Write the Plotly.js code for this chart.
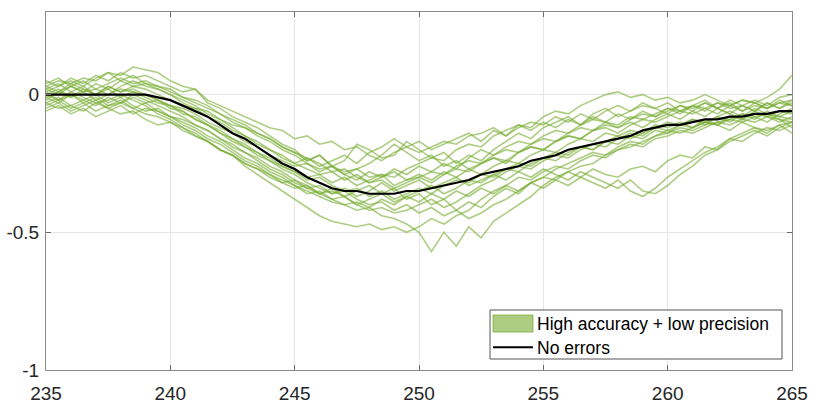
<!DOCTYPE html>
<html>
<head>
<meta charset="utf-8">
<script src="https://cdn.plot.ly/plotly-3.0.1.min.js"></script>
<style>html,body{margin:0;padding:0;background:#fff;}#chart{width:833px;height:405px;}</style>
</head>
<body>
<div id="chart"></div>
<script>
const xs = [235,235.5,236,236.5,237,237.5,238,238.5,239,239.5,
240,240.5,241,241.5,242,242.5,243,243.5,244,244.5,
245,245.5,246,246.5,247,247.5,248,248.5,249,249.5,
250,250.5,251,251.5,252,252.5,253,253.5,254,254.5,
255,255.5,256,256.5,257,257.5,258,258.5,259,259.5,
260,260.5,261,261.5,262,262.5,263,263.5,264,264.5,265];

const noErrors = [0,0,0,0,0,0,0,0,0,-0.01,
-0.02,-0.04,-0.06,-0.08,-0.11,-0.14,-0.16,-0.19,-0.22,-0.25,
-0.27,-0.30,-0.32,-0.34,-0.35,-0.35,-0.36,-0.36,-0.36,-0.35,
-0.35,-0.34,-0.33,-0.32,-0.31,-0.29,-0.28,-0.27,-0.26,-0.24,
-0.23,-0.22,-0.20,-0.19,-0.18,-0.17,-0.16,-0.15,-0.13,-0.12,
-0.11,-0.11,-0.10,-0.09,-0.09,-0.08,-0.08,-0.07,-0.07,-0.06,-0.06];

const run01 = [0.03,0.05,0.04,0.06,0.05,0.08,0.07,0.10,0.09,0.08,
0.05,0.03,0.02,-0.03,-0.05,-0.08,-0.10,-0.12,-0.15,-0.18,
-0.20,-0.24,-0.22,-0.26,-0.28,-0.27,-0.30,-0.29,-0.33,-0.31,
-0.30,-0.28,-0.29,-0.26,-0.24,-0.25,-0.22,-0.20,-0.21,-0.18,
-0.16,-0.17,-0.14,-0.12,-0.13,-0.10,-0.11,-0.08,-0.09,-0.07,
-0.05,-0.06,-0.04,-0.05,-0.03,-0.04,-0.02,-0.03,-0.01,0.02,0.07];
const run02 = [-0.03,-0.01,-0.04,-0.02,0.00,-0.03,-0.01,-0.04,-0.06,-0.05,
-0.08,-0.10,-0.12,-0.15,-0.17,-0.20,-0.23,-0.25,-0.28,-0.30,
-0.33,-0.35,-0.37,-0.39,-0.40,-0.42,-0.41,-0.44,-0.45,-0.47,
-0.50,-0.57,-0.50,-0.55,-0.48,-0.52,-0.46,-0.43,-0.40,-0.37,
-0.33,-0.30,-0.28,-0.26,-0.25,-0.22,-0.20,-0.19,-0.17,-0.15,
-0.14,-0.12,-0.13,-0.11,-0.10,-0.09,-0.10,-0.08,-0.07,-0.08,-0.06];
const run03 = [0.00,-0.02,0.01,-0.01,-0.03,-0.02,0.00,-0.02,-0.04,-0.07,
-0.09,-0.12,-0.14,-0.17,-0.20,-0.22,-0.26,-0.29,-0.32,-0.35,
-0.38,-0.41,-0.44,-0.46,-0.47,-0.48,-0.47,-0.49,-0.48,-0.50,
-0.48,-0.45,-0.47,-0.44,-0.42,-0.38,-0.35,-0.33,-0.30,-0.31,
-0.28,-0.26,-0.27,-0.24,-0.22,-0.23,-0.20,-0.18,-0.19,-0.16,
-0.15,-0.13,-0.14,-0.12,-0.10,-0.11,-0.09,-0.10,-0.08,-0.09,-0.10];
const run04 = [0.02,0.00,0.03,0.01,0.04,0.02,0.05,0.03,0.04,0.02,
0.00,-0.03,-0.05,-0.06,-0.09,-0.11,-0.12,-0.14,-0.16,-0.19,
-0.21,-0.24,-0.22,-0.26,-0.24,-0.18,-0.20,-0.23,-0.22,-0.17,
-0.20,-0.23,-0.21,-0.25,-0.22,-0.24,-0.20,-0.17,-0.14,-0.16,
-0.12,-0.10,-0.08,-0.11,-0.07,-0.05,-0.08,-0.06,-0.04,-0.05,
-0.03,-0.06,-0.04,-0.02,-0.05,-0.03,-0.06,-0.04,-0.05,-0.03,-0.04];
const run05 = [-0.02,0.01,-0.01,0.02,0.00,0.03,0.01,0.02,0.00,-0.02,
-0.04,-0.06,-0.09,-0.11,-0.14,-0.16,-0.19,-0.21,-0.24,-0.26,
-0.28,-0.30,-0.29,-0.32,-0.30,-0.33,-0.31,-0.29,-0.30,-0.27,
-0.25,-0.23,-0.24,-0.20,-0.18,-0.19,-0.15,-0.13,-0.11,-0.12,
-0.08,-0.06,-0.07,-0.04,-0.02,0.00,0.01,-0.01,0.00,-0.02,
-0.01,-0.03,-0.02,0.00,-0.02,-0.04,-0.02,-0.03,-0.05,-0.03,-0.02];
const run06 = [0.01,-0.02,0.00,-0.03,-0.01,-0.04,-0.02,-0.05,-0.03,-0.06,
-0.08,-0.11,-0.13,-0.16,-0.18,-0.21,-0.24,-0.26,-0.29,-0.31,
-0.33,-0.36,-0.35,-0.38,-0.40,-0.39,-0.41,-0.38,-0.40,-0.37,
-0.39,-0.36,-0.38,-0.35,-0.37,-0.34,-0.36,-0.33,-0.35,-0.32,
-0.34,-0.31,-0.33,-0.30,-0.32,-0.34,-0.31,-0.35,-0.37,-0.34,
-0.30,-0.27,-0.24,-0.21,-0.19,-0.16,-0.14,-0.12,-0.13,-0.11,-0.10];
const run07 = [-0.04,-0.02,-0.05,-0.03,-0.06,-0.04,-0.03,-0.05,-0.07,-0.08,
-0.10,-0.12,-0.15,-0.17,-0.20,-0.22,-0.25,-0.27,-0.29,-0.32,
-0.34,-0.33,-0.36,-0.34,-0.37,-0.35,-0.33,-0.36,-0.34,-0.38,
-0.36,-0.40,-0.38,-0.42,-0.39,-0.41,-0.37,-0.34,-0.36,-0.32,
-0.30,-0.31,-0.28,-0.30,-0.27,-0.29,-0.30,-0.27,-0.26,-0.28,
-0.24,-0.22,-0.23,-0.19,-0.20,-0.16,-0.17,-0.14,-0.12,-0.13,-0.11];
const run08 = [0.05,0.03,0.06,0.04,0.07,0.05,0.08,0.06,0.07,0.05,
0.03,0.01,0.02,-0.02,-0.04,-0.06,-0.08,-0.10,-0.12,-0.13,
-0.16,-0.15,-0.18,-0.17,-0.20,-0.19,-0.22,-0.24,-0.21,-0.19,
-0.21,-0.19,-0.17,-0.18,-0.15,-0.14,-0.12,-0.15,-0.11,-0.13,
-0.10,-0.12,-0.09,-0.11,-0.08,-0.10,-0.07,-0.09,-0.06,-0.08,
-0.05,-0.07,-0.04,-0.06,-0.03,-0.05,-0.04,-0.02,-0.04,-0.01,0.00];
const run09 = [0.00,0.02,-0.01,0.01,-0.02,0.00,0.02,0.01,-0.01,-0.03,
-0.04,-0.07,-0.08,-0.11,-0.13,-0.16,-0.18,-0.21,-0.23,-0.26,
-0.28,-0.31,-0.30,-0.33,-0.35,-0.34,-0.37,-0.35,-0.38,-0.36,
-0.34,-0.36,-0.33,-0.31,-0.32,-0.29,-0.30,-0.27,-0.25,-0.26,
-0.23,-0.21,-0.22,-0.19,-0.20,-0.17,-0.18,-0.15,-0.16,-0.13,
-0.14,-0.11,-0.12,-0.10,-0.11,-0.08,-0.09,-0.07,-0.08,-0.06,-0.07];
const run10 = [-0.05,-0.03,-0.06,-0.04,-0.02,-0.05,-0.03,-0.01,-0.03,-0.02,
-0.04,-0.05,-0.07,-0.10,-0.12,-0.14,-0.17,-0.19,-0.22,-0.24,
-0.26,-0.25,-0.28,-0.26,-0.29,-0.27,-0.25,-0.22,-0.18,-0.21,
-0.24,-0.22,-0.26,-0.24,-0.27,-0.25,-0.23,-0.25,-0.21,-0.19,
-0.20,-0.17,-0.15,-0.16,-0.13,-0.11,-0.12,-0.10,-0.12,-0.09,
-0.07,-0.09,-0.06,-0.08,-0.05,-0.07,-0.09,-0.06,-0.08,-0.10,-0.08];
const run11 = [-0.03,-0.05,-0.04,-0.06,-0.03,-0.05,-0.07,-0.06,-0.09,-0.11,
-0.10,-0.13,-0.15,-0.17,-0.20,-0.22,-0.25,-0.27,-0.30,-0.32,
-0.31,-0.34,-0.36,-0.35,-0.37,-0.40,-0.38,-0.36,-0.39,-0.37,
-0.35,-0.33,-0.36,-0.34,-0.31,-0.32,-0.29,-0.27,-0.28,-0.25,
-0.23,-0.24,-0.21,-0.19,-0.20,-0.17,-0.15,-0.16,-0.14,-0.12,
-0.13,-0.11,-0.09,-0.10,-0.08,-0.10,-0.07,-0.09,-0.06,-0.08,-0.09];
const run12 = [0.04,0.06,0.03,0.05,0.02,0.04,0.06,0.04,0.05,0.03,
0.01,-0.01,-0.03,-0.05,-0.07,-0.10,-0.12,-0.15,-0.17,-0.20,
-0.22,-0.25,-0.27,-0.26,-0.29,-0.31,-0.28,-0.30,-0.27,-0.29,
-0.26,-0.28,-0.25,-0.27,-0.23,-0.20,-0.22,-0.19,-0.17,-0.18,
-0.15,-0.13,-0.14,-0.11,-0.09,-0.10,-0.12,-0.09,-0.07,-0.08,
-0.06,-0.04,-0.05,-0.03,-0.05,-0.02,-0.04,-0.06,-0.03,-0.05,-0.02];
const run13 = [0.02,0.04,0.01,0.03,0.00,0.02,-0.01,0.01,0.00,-0.02,
-0.05,-0.06,-0.09,-0.11,-0.14,-0.17,-0.19,-0.22,-0.24,-0.27,
-0.29,-0.32,-0.34,-0.36,-0.35,-0.38,-0.40,-0.39,-0.42,-0.40,
-0.43,-0.41,-0.44,-0.42,-0.45,-0.43,-0.40,-0.38,-0.35,-0.32,
-0.30,-0.27,-0.25,-0.23,-0.21,-0.22,-0.19,-0.17,-0.18,-0.15,
-0.13,-0.14,-0.12,-0.10,-0.11,-0.09,-0.07,-0.08,-0.10,-0.07,-0.05];
const run14 = [-0.01,0.01,0.03,0.01,0.02,0.00,0.03,0.05,0.03,0.02,
0.00,-0.02,-0.04,-0.07,-0.09,-0.12,-0.15,-0.17,-0.20,-0.22,
-0.25,-0.23,-0.26,-0.24,-0.22,-0.25,-0.21,-0.19,-0.16,-0.19,
-0.17,-0.20,-0.18,-0.16,-0.14,-0.17,-0.13,-0.15,-0.12,-0.10,
-0.11,-0.08,-0.10,-0.07,-0.09,-0.06,-0.04,-0.06,-0.03,-0.05,
-0.07,-0.04,-0.06,-0.03,-0.05,-0.07,-0.04,-0.06,-0.03,-0.05,-0.03];
const run15 = [-0.06,-0.04,-0.07,-0.05,-0.08,-0.06,-0.04,-0.07,-0.05,-0.06,
-0.08,-0.09,-0.11,-0.13,-0.16,-0.18,-0.21,-0.23,-0.26,-0.28,
-0.31,-0.33,-0.36,-0.38,-0.37,-0.40,-0.42,-0.41,-0.43,-0.42,
-0.40,-0.38,-0.41,-0.39,-0.36,-0.33,-0.31,-0.28,-0.26,-0.27,
-0.24,-0.22,-0.23,-0.20,-0.18,-0.19,-0.16,-0.14,-0.15,-0.12,
-0.10,-0.11,-0.09,-0.11,-0.08,-0.06,-0.08,-0.05,-0.07,-0.09,-0.12];
const run16 = [0.03,0.01,0.04,0.02,0.00,0.03,0.01,0.03,0.02,0.00,
-0.02,-0.04,-0.05,-0.08,-0.10,-0.13,-0.15,-0.18,-0.20,-0.23,
-0.25,-0.27,-0.29,-0.28,-0.31,-0.29,-0.32,-0.30,-0.28,-0.31,
-0.29,-0.31,-0.28,-0.30,-0.27,-0.29,-0.26,-0.24,-0.25,-0.22,
-0.20,-0.21,-0.18,-0.16,-0.17,-0.14,-0.15,-0.13,-0.14,-0.11,
-0.12,-0.10,-0.12,-0.09,-0.11,-0.13,-0.10,-0.12,-0.14,-0.11,-0.14];
const run17 = [0.01,0.03,0.05,0.03,0.06,0.08,0.05,0.07,0.04,0.03,
0.02,-0.01,-0.02,-0.04,-0.07,-0.09,-0.11,-0.14,-0.16,-0.19,
-0.21,-0.23,-0.25,-0.28,-0.27,-0.30,-0.32,-0.31,-0.34,-0.32,
-0.30,-0.32,-0.29,-0.27,-0.28,-0.25,-0.23,-0.24,-0.21,-0.19,
-0.20,-0.17,-0.15,-0.16,-0.13,-0.12,-0.14,-0.11,-0.09,-0.10,
-0.08,-0.06,-0.07,-0.05,-0.07,-0.04,-0.06,-0.03,-0.05,-0.02,-0.04];
const run18 = [-0.01,-0.03,0.00,-0.02,-0.04,-0.01,-0.03,0.00,-0.02,-0.04,
-0.06,-0.08,-0.11,-0.13,-0.16,-0.19,-0.21,-0.24,-0.27,-0.29,
-0.32,-0.34,-0.33,-0.36,-0.34,-0.37,-0.35,-0.32,-0.35,-0.33,
-0.31,-0.34,-0.32,-0.30,-0.33,-0.31,-0.29,-0.31,-0.28,-0.30,
-0.27,-0.29,-0.31,-0.28,-0.30,-0.32,-0.34,-0.31,-0.35,-0.36,
-0.33,-0.29,-0.26,-0.22,-0.20,-0.17,-0.15,-0.13,-0.15,-0.12,-0.10];

const runs = [run01,run02,run03,run04,run05,run06,run07,run08,run09,
run10,run11,run12,run13,run14,run15,run16,run17,run18];

const xTicks = [235,240,245,250,255,260,265];
const yTicks = [-1,-0.5,0];
const yTickText = ['-1','-0.5','0'];
const greenName = 'High accuracy + low precision';
const blackName = 'No errors';

const FONT = 'Liberation Sans, Arial, Helvetica, sans-serif';
const green = 'rgba(119,172,48,0.6)';
const traces = runs.map(r => ({
  x: xs, y: r, type: 'scatter', mode: 'lines',
  line: {color: green, width: 1.6}, showlegend: false, hoverinfo: 'skip'
}));
traces.push({
  x: xs, y: noErrors, type: 'scatter', mode: 'lines',
  line: {color: '#000', width: 2.2}, name: blackName, showlegend: false
});

const axisCommon = {
  showline: true, mirror: 'ticks', linecolor: '#8a8a8a', linewidth: 1,
  ticks: 'inside', ticklen: 5, tickcolor: '#6a6a6a',
  showgrid: true, gridcolor: '#e6e6e6', gridwidth: 1, zeroline: false,
  tickfont: {family: FONT, size: 19, color: '#262626'}
};

// legend drawn in paper coordinates (plot area = paper 0..1)
const shapes = [
  {type: 'rect', xref: 'paper', yref: 'paper', x0: 0.5952, x1: 0.9866, y0: 0.0307, y1: 0.1676,
   fillcolor: '#fff', line: {color: '#555', width: 1}, layer: 'above'},
  {type: 'rect', xref: 'paper', yref: 'paper', x0: 0.5992, x1: 0.6528, y0: 0.1061, y1: 0.1536,
   fillcolor: 'rgba(119,172,48,0.6)', line: {color: 'rgba(119,172,48,0.75)', width: 1}, layer: 'above'},
  {type: 'line', xref: 'paper', yref: 'paper', x0: 0.5992, x1: 0.6528, y0: 0.0634, y1: 0.0634,
   line: {color: '#000', width: 2}, layer: 'above'}
];
const annotations = [
  {xref: 'paper', yref: 'paper', x: 0.6555, y: 0.1290, xanchor: 'left', yanchor: 'middle',
   text: greenName, showarrow: false, font: {family: FONT, size: 17.5, color: '#000'}},
  {xref: 'paper', yref: 'paper', x: 0.6555, y: 0.0620, xanchor: 'left', yanchor: 'middle',
   text: blackName, showarrow: false, font: {family: FONT, size: 17.5, color: '#000'}}
];

const layout = {
  width: 833, height: 405,
  margin: {l: 46, r: 41, t: 12, b: 35, pad: 0},
  paper_bgcolor: '#fff', plot_bgcolor: '#fff',
  xaxis: Object.assign({}, axisCommon, {range: [235, 265], tickvals: xTicks, ticklabelstandoff: 6}),
  yaxis: Object.assign({}, axisCommon, {range: [-1, 0.3], tickvals: yTicks, ticktext: yTickText, ticklabelstandoff: 2}),
  showlegend: false,
  shapes: shapes,
  annotations: annotations
};

Plotly.newPlot('chart', traces, layout, {staticPlot: true, displayModeBar: false});
</script>
</body>
</html>
